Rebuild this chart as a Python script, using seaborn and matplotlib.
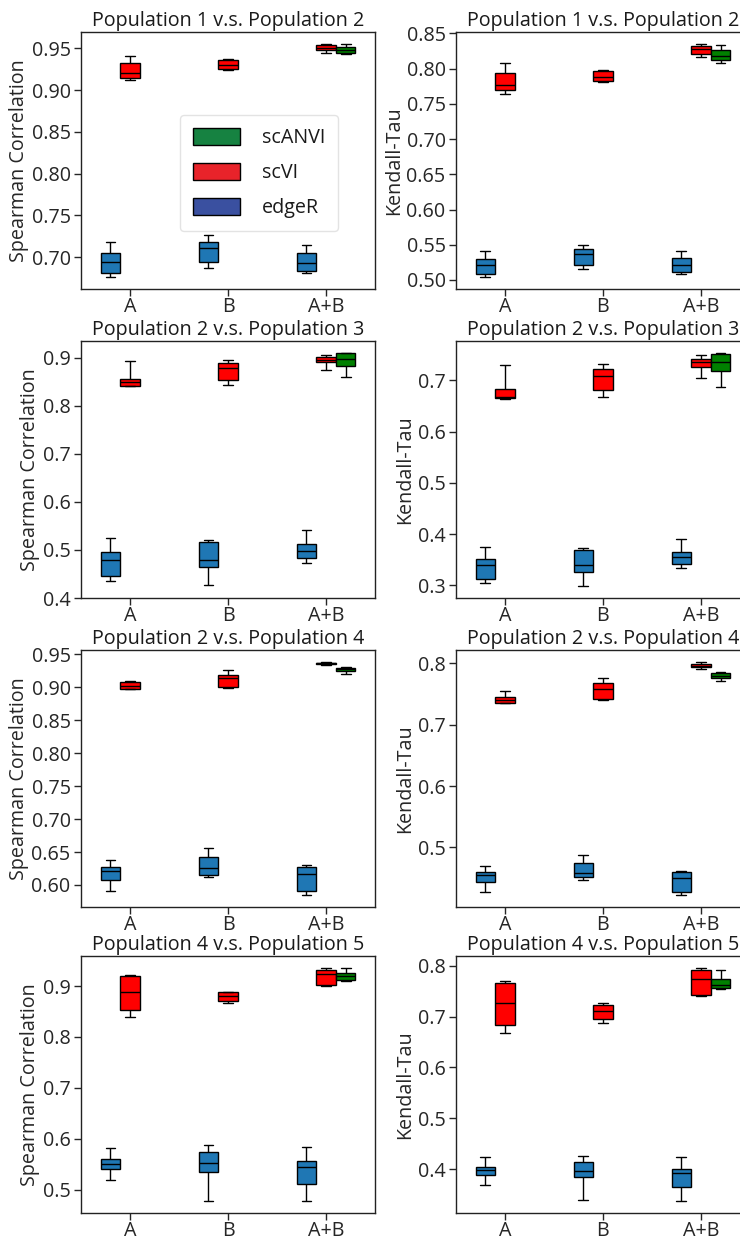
import numpy as np
import pandas as pd
import matplotlib
matplotlib.use("Agg")
import matplotlib.pyplot as plt
from matplotlib.patches import Patch
import seaborn as sns

conditions = ["A", "B", "A+B"]
methods = ["edgeR", "scVI", "scANVI"]

# Per-run scores for each condition (A, B, A+B); scANVI only runs on A+B.
# --- Population 1 v.s. Population 2 ---
sp_12_edger = [[0.6757, 0.6809, 0.6944, 0.7048, 0.7175],
               [0.6868, 0.6940, 0.7108, 0.7175, 0.7267],
               [0.6809, 0.6829, 0.6928, 0.7048, 0.7140]]
sp_12_scvi = [[0.9121, 0.9145, 0.9209, 0.9320, 0.9408],
              [0.9241, 0.9249, 0.9297, 0.9360, 0.9368],
              [0.9448, 0.9480, 0.9508, 0.9536, 0.9556]]
sp_12_scanvi = [0.9428, 0.9440, 0.9484, 0.9520, 0.9556]

kt_12_edger = [[0.5038, 0.5085, 0.5217, 0.5292, 0.5405],
               [0.5156, 0.5208, 0.5363, 0.5438, 0.5495],
               [0.5080, 0.5109, 0.5208, 0.5316, 0.5405]]
kt_12_scvi = [[0.7638, 0.7690, 0.7765, 0.7935, 0.8076],
              [0.7808, 0.7817, 0.7883, 0.7963, 0.7982],
              [0.8161, 0.8208, 0.8279, 0.8321, 0.8354]]
kt_12_scanvi = [0.8081, 0.8123, 0.8180, 0.8264, 0.8330]

# --- Population 2 v.s. Population 3 ---
sp_23_edger = [[0.4345, 0.4449, 0.4801, 0.4953, 0.5257],
               [0.4262, 0.4656, 0.4801, 0.5160, 0.5215],
               [0.4725, 0.4829, 0.4988, 0.5133, 0.5423]]
sp_23_scvi = [[0.8406, 0.8420, 0.8489, 0.8565, 0.8938],
              [0.8441, 0.8544, 0.8786, 0.8903, 0.8959],
              [0.8751, 0.8917, 0.8959, 0.9014, 0.9055]]
sp_23_scanvi = [0.8600, 0.8834, 0.8972, 0.9097, 0.9110]

kt_23_edger = [[0.3039, 0.3123, 0.3396, 0.3513, 0.3753],
               [0.2981, 0.3266, 0.3403, 0.3682, 0.3727],
               [0.3344, 0.3409, 0.3552, 0.3656, 0.3896]]
kt_23_scvi = [[0.6630, 0.6649, 0.6682, 0.6838, 0.7305],
              [0.6682, 0.6812, 0.7091, 0.7227, 0.7325],
              [0.7052, 0.7266, 0.7357, 0.7409, 0.7487]]
kt_23_scanvi = [0.6877, 0.7188, 0.7351, 0.7513, 0.7539]

# --- Population 2 v.s. Population 4 ---
sp_24_edger = [[0.5914, 0.6081, 0.6217, 0.6273, 0.6384],
               [0.6116, 0.6146, 0.6258, 0.6429, 0.6560],
               [0.5843, 0.5904, 0.6172, 0.6268, 0.6298]]
sp_24_scvi = [[0.8970, 0.8975, 0.9020, 0.9076, 0.9096],
              [0.8990, 0.9000, 0.9141, 0.9192, 0.9263],
              [0.9343, 0.9348, 0.9364, 0.9374, 0.9389]]
sp_24_scanvi = [0.9202, 0.9253, 0.9273, 0.9293, 0.9303]

kt_24_edger = [[0.4272, 0.4430, 0.4544, 0.4598, 0.4701],
               [0.4462, 0.4511, 0.4582, 0.4739, 0.4869],
               [0.4218, 0.4272, 0.4495, 0.4598, 0.4620]]
kt_24_scvi = [[0.7349, 0.7360, 0.7403, 0.7457, 0.7544],
              [0.7403, 0.7414, 0.7577, 0.7685, 0.7756],
              [0.7913, 0.7935, 0.7962, 0.7989, 0.8027]]
kt_24_scanvi = [0.7712, 0.7761, 0.7794, 0.7837, 0.7859]

# --- Population 4 v.s. Population 5 ---
sp_45_edger = [[0.5183, 0.5406, 0.5504, 0.5609, 0.5825],
               [0.4784, 0.5347, 0.5524, 0.5733, 0.5877],
               [0.4771, 0.5118, 0.5452, 0.5557, 0.5838]]
sp_45_scvi = [[0.8391, 0.8535, 0.8889, 0.9196, 0.9210],
              [0.8666, 0.8699, 0.8797, 0.8876, 0.8882],
              [0.9007, 0.9013, 0.9229, 0.9308, 0.9354]]
sp_45_scanvi = [0.9105, 0.9124, 0.9190, 0.9255, 0.9360]

kt_45_edger = [[0.3693, 0.3889, 0.3974, 0.4046, 0.4235],
               [0.3386, 0.3837, 0.3967, 0.4144, 0.4261],
               [0.3366, 0.3654, 0.3915, 0.4007, 0.4235]]
kt_45_scvi = [[0.6673, 0.6824, 0.7268, 0.7660, 0.7706],
              [0.6882, 0.6961, 0.7111, 0.7222, 0.7275],
              [0.7399, 0.7425, 0.7739, 0.7908, 0.7961]]
kt_45_scanvi = [0.7549, 0.7562, 0.7627, 0.7732, 0.7922]

titles = ["Population 1 v.s. Population 2",
          "Population 2 v.s. Population 3",
          "Population 2 v.s. Population 4",
          "Population 4 v.s. Population 5"]

spearman_ticks = [[0.70, 0.75, 0.80, 0.85, 0.90, 0.95],
                  [0.4, 0.5, 0.6, 0.7, 0.8, 0.9],
                  [0.60, 0.65, 0.70, 0.75, 0.80, 0.85, 0.90, 0.95],
                  [0.5, 0.6, 0.7, 0.8, 0.9]]
kendall_ticks = [[0.50, 0.55, 0.60, 0.65, 0.70, 0.75, 0.80, 0.85],
                 [0.3, 0.4, 0.5, 0.6, 0.7],
                 [0.5, 0.6, 0.7, 0.8],
                 [0.4, 0.5, 0.6, 0.7, 0.8]]

spearman_sets = [(sp_12_edger, sp_12_scvi, sp_12_scanvi),
                 (sp_23_edger, sp_23_scvi, sp_23_scanvi),
                 (sp_24_edger, sp_24_scvi, sp_24_scanvi),
                 (sp_45_edger, sp_45_scvi, sp_45_scanvi)]
kendall_sets = [(kt_12_edger, kt_12_scvi, kt_12_scanvi),
                (kt_23_edger, kt_23_scvi, kt_23_scanvi),
                (kt_24_edger, kt_24_scvi, kt_24_scanvi),
                (kt_45_edger, kt_45_scvi, kt_45_scanvi)]

box_colors = {"edgeR": "#1f77b4", "scVI": "#ff0000", "scANVI": "#008000"}
legend_colors = {"scANVI": "#168241", "scVI": "#e8232a", "edgeR": "#3a50a0"}


def long_frame(edger, scvi, scanvi):
    rows = []
    for cond, vals in zip(conditions, edger):
        rows += [(cond, "edgeR", v) for v in vals]
    for cond, vals in zip(conditions, scvi):
        rows += [(cond, "scVI", v) for v in vals]
    rows += [("A+B", "scANVI", v) for v in scanvi]
    return pd.DataFrame(rows, columns=["condition", "method", "score"])


FS = 14.2

sns.set_style("ticks")
plt.rcParams["font.family"] = ["Open Sans", "DejaVu Sans"]
plt.rcParams["font.size"] = FS
plt.rcParams["text.color"] = "#1a1a1a"
plt.rcParams["axes.linewidth"] = 1.0
plt.rcParams["xtick.major.size"] = 5
plt.rcParams["ytick.major.size"] = 5
plt.rcParams["xtick.major.width"] = 1.0
plt.rcParams["ytick.major.width"] = 1.0

fig = plt.figure(figsize=(7.40, 12.43), dpi=100)

col_x = [0.1095, 0.6162]
ax_w = 0.3973
ax_h = 0.2068
row_bottoms = [0.7675, 0.5189, 0.2703, 0.0241]

for r in range(4):
    for c, (sets, ylabel, ticks) in enumerate([
            (spearman_sets, "Spearman Correlation", spearman_ticks),
            (kendall_sets, "Kendall-Tau", kendall_ticks)]):
        ax = fig.add_axes([col_x[c], row_bottoms[r], ax_w, ax_h])
        df = long_frame(*sets[r])
        sns.boxplot(data=df, x="condition", y="score", hue="method",
                    order=conditions, hue_order=methods, palette=box_colors,
                    width=0.6, gap=0, whis=(0, 100), saturation=1,
                    linecolor="black", linewidth=1.0, showfliers=False,
                    legend=False, ax=ax)
        ax.set_yticks(ticks[r])
        dec = 2 if abs(ticks[r][1] - ticks[r][0] - 0.05) < 1e-9 else 1
        ax.set_yticklabels([f"{t:.{dec}f}" for t in ticks[r]])
        ax.set_xlabel("")
        ax.set_ylabel(ylabel, fontsize=FS, labelpad=2)
        ax.set_title(titles[r], fontsize=FS, pad=4)
        ax.tick_params(axis="y", labelsize=FS, pad=2.5)
        ax.tick_params(axis="x", labelsize=FS, pad=1)
        for s in ax.spines.values():
            s.set_visible(True)
            s.set_color("#222222")
        if r == 0 and c == 0:
            handles = [Patch(facecolor=legend_colors[m], edgecolor="black",
                             linewidth=1.0, label=m)
                       for m in ["scANVI", "scVI", "edgeR"]]
            ax.legend(handles=handles, loc="upper left",
                      bbox_to_anchor=(0.337, 0.677), borderaxespad=0,
                      handlelength=2.4, handleheight=0.95,
                      labelspacing=0.75, handletextpad=1.1,
                      borderpad=0.65, fontsize=FS, frameon=True,
                      fancybox=True, edgecolor="#dddddd")

fig.savefig("out.png", dpi=100)
